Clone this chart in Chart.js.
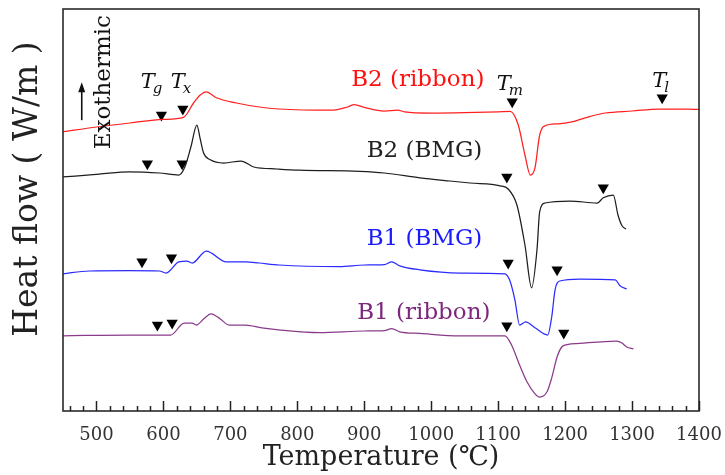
<!DOCTYPE html>
<html><head><meta charset="utf-8">
<script src="https://cdn.jsdelivr.net/npm/chart.js@4"></script>
<style>html,body{margin:0;padding:0;background:#fff}</style>
</head><body>
<canvas id="c" width="725" height="475"></canvas>
<script>
// ---- data (heat flow in arbitrary units) ----
const seriesNames = ['B2 (ribbon)', 'B2 (BMG)', 'B1 (BMG)', 'B1 (ribbon)'];

const b2RibbonT = [450,500,550,600,630,645,655,664,679,709,743,773,850,875,885,900,930,950,960,1000,1050,1100,1118,1130,1140,1148,1155,1162,1170,1190,1210,1230,1260,1300,1340,1400];
const b2RibbonV = [69.8,71,72,72.9,73.4,77,79,79.8,78.3,77,76,75.5,75.2,76,76.6,75.9,75,75.2,74.8,74.5,74.6,74.8,74.9,71.5,64,59,60.8,69,71.3,71.8,72.3,73.3,74.5,75,75.5,75.4];

const b2BmgT = [450,504,549,594,623,632,641,650,655,660,670,690,716,735,770,803,893,930,983,1028,1058,1103,1115,1128,1140,1150,1158,1162,1170,1207,1248,1257,1272,1279,1285,1291];
const b2BmgV = [58.5,59.2,59.8,59.5,59,61,66,71.5,68,64.5,62.8,62,62.5,61,60.5,60.2,59.9,59.5,58.3,57.5,57,56.3,55.5,51.5,41.5,30.8,40.3,49.8,52,52.5,52,53.3,54,49,46.3,45.5];

const b1BmgT = [450,489,549,594,604,623,635,643,664,694,723,743,773,863,900,930,941,953,983,1043,1110,1117,1125,1132,1141,1155,1174,1180,1185,1192,1222,1275,1282,1292];
const b1BmgV = [34.3,35,35.1,35,34.5,37.3,37.5,37,40,37.3,37.3,37,36.5,36.1,36.5,36.6,37.3,36.3,35.3,34.5,34.3,32.8,27.8,21.5,22.3,20.8,19,23.5,30.3,32.5,33,32.8,31.3,30.5];

const b1RibbonT = [450,549,611,631,643,649,660,671,685,698,723,747,772,833,900,930,941,953,983,1043,1110,1120,1132,1143,1155,1162,1173,1180,1188,1195,1203,1222,1277,1285,1292,1302];
const b1RibbonV = [18.8,19,19,22,22,21.5,23,24.3,23,21.5,21.5,20.8,20.3,19.6,20,20.1,20.6,19.8,19.4,18.8,18.8,16.5,11.5,7.3,4.3,3.5,4.8,8.3,13.5,16,16.6,16.9,17.5,17,16,15.5];

// characteristic temperatures (Tg, Tx, Tm, Tl) marked with down triangles
const markerT = [597,629,1121,1345, 576,628,1113,1257, 568,612,1115,1188, 591,613,1113,1198];
const markerV = [74,75.5,77.3,78.3, 61.8,61.8,58.5,55.8, 37.3,38.3,37,35.3, 21.5,22,21.3,19.5];

const xTickValues = [500,600,700,800,900,1000,1100,1200,1300,1400];
const xMinorStep = 20;

// ---- styling / placement (not data) ----
const lineColors = ['#ff2020', '#1e1e1e', '#2b2bff', '#8a3a8a'];
const textColors = ['#ff1010', '#222222', '#1a1aff', '#7c267c'];
const seriesLabelPos = [[980, 82.7], [990, 65], [990, 43], [989, 24.5]];
const tempLabels = [ {sub:'g', t:566, v:80.7}, {sub:'x', t:611, v:80.7}, {sub:'m', t:1098, v:80.2}, {sub:'l', t:1330, v:81} ];
const SERIF = "'DejaVu Serif', serif";

function pts(T, V) { return T.map((t, i) => ({x: t, y: V[i]})); }
const seriesT = [b2RibbonT, b2BmgT, b1BmgT, b1RibbonT];
const seriesV = [b2RibbonV, b2BmgV, b1BmgV, b1RibbonV];

const datasets = seriesNames.map((n, i) => ({
  type: 'line', label: n, data: pts(seriesT[i], seriesV[i]),
  borderColor: lineColors[i], borderWidth: 1.25, pointRadius: 0,
  cubicInterpolationMode: 'monotone', fill: false
}));
datasets.push({
  type: 'scatter', label: 'markers', data: pts(markerT, markerV),
  pointStyle: 'triangle', rotation: 180, pointRadius: 6.5,
  backgroundColor: '#000', borderColor: '#000', borderWidth: 0, showLine: false
});

const decor = {
  id: 'decor',
  afterDatasetsDraw(chart) {
    const ctx = chart.ctx, a = chart.chartArea;
    const xs = chart.scales.x, ys = chart.scales.y;
    ctx.save();
    // frame
    ctx.strokeStyle = '#2a2a2a'; ctx.lineWidth = 1.6;
    ctx.strokeRect(a.left, a.top, a.right - a.left, a.bottom - a.top);
    // inward ticks on bottom axis
    ctx.lineWidth = 1.5; ctx.strokeStyle = '#222';
    for (let v = 460; v <= 1400; v += xMinorStep) {
      const x = Math.round(xs.getPixelForValue(v)) + 0.5;
      const len = (v % 100 === 0) ? 10 : 5;
      ctx.beginPath(); ctx.moveTo(x, a.bottom); ctx.lineTo(x, a.bottom - len); ctx.stroke();
    }
    // series labels
    ctx.textAlign = 'center'; ctx.textBaseline = 'middle';
    ctx.font = '23px ' + SERIF;
    seriesNames.forEach((n, i) => {
      ctx.fillStyle = textColors[i];
      ctx.fillText(n, xs.getPixelForValue(seriesLabelPos[i][0]), ys.getPixelForValue(seriesLabelPos[i][1]));
    });
    // T labels
    ctx.fillStyle = '#111'; ctx.textAlign = 'left'; ctx.textBaseline = 'alphabetic';
    tempLabels.forEach(l => {
      const x = xs.getPixelForValue(l.t), y = ys.getPixelForValue(l.v);
      ctx.font = 'italic 21px ' + SERIF;
      ctx.fillText('T', x, y);
      const w = ctx.measureText('T').width;
      ctx.font = 'italic 15px ' + SERIF;
      ctx.fillText(l.sub, x + w - 2, y + 5);
    });
    // Exothermic + arrow
    const ex = xs.getPixelForValue(512), ey = ys.getPixelForValue(82.2);
    ctx.save();
    ctx.translate(ex, ey); ctx.rotate(-Math.PI / 2);
    ctx.font = '23px ' + SERIF; ctx.textAlign = 'center'; ctx.textBaseline = 'middle';
    ctx.fillText('Exothermic', 0, 0);
    ctx.restore();
    const ax = xs.getPixelForValue(478), ay0 = ys.getPixelForValue(72.7), ay1 = ys.getPixelForValue(82.2);
    ctx.strokeStyle = '#111'; ctx.lineWidth = 1.6;
    ctx.beginPath(); ctx.moveTo(ax, ay0); ctx.lineTo(ax, ay1 + 8); ctx.stroke();
    ctx.beginPath(); ctx.moveTo(ax, ay1); ctx.lineTo(ax - 3.5, ay1 + 10); ctx.lineTo(ax + 3.5, ay1 + 10); ctx.closePath(); ctx.fill();
    ctx.restore();
  }
};

new Chart(document.getElementById('c'), {
  data: { datasets },
  options: {
    responsive: false, animation: false, devicePixelRatio: 1,
    layout: { padding: { left: 0, right: 26, top: 9, bottom: 0 } },
    plugins: { legend: { display: false }, tooltip: { enabled: false } },
    scales: {
      x: {
        type: 'linear', min: 450, max: 1400,
        afterBuildTicks: s => { s.ticks = xTickValues.map(v => ({ value: v })); },
        afterFit: s => { s.height = 64; s.paddingLeft = 0; s.paddingRight = 0; },
        grid: { display: false, drawTicks: false }, border: { display: false },
        ticks: { padding: 14, autoSkip: false, maxRotation: 0, color: '#333', font: { family: SERIF, size: 18 },
                 callback: v => String(v) },
        title: { display: true, text: 'Temperature (℃)', color: '#222', font: { family: SERIF, size: 27 }, padding: { top: 0, bottom: 1 } }
      },
      y: {
        type: 'linear', min: 0, max: 100.5,
        afterFit: s => { s.width = 63; },
        ticks: { display: false }, grid: { display: false, drawTicks: false }, border: { display: false },
        title: { display: true, text: '    Heat flow ( W/m )', color: '#222', font: { family: SERIF, size: 33 }, padding: { top: 9, bottom: 0 } }
      }
    }
  },
  plugins: [decor]
});
</script>
</body></html>
